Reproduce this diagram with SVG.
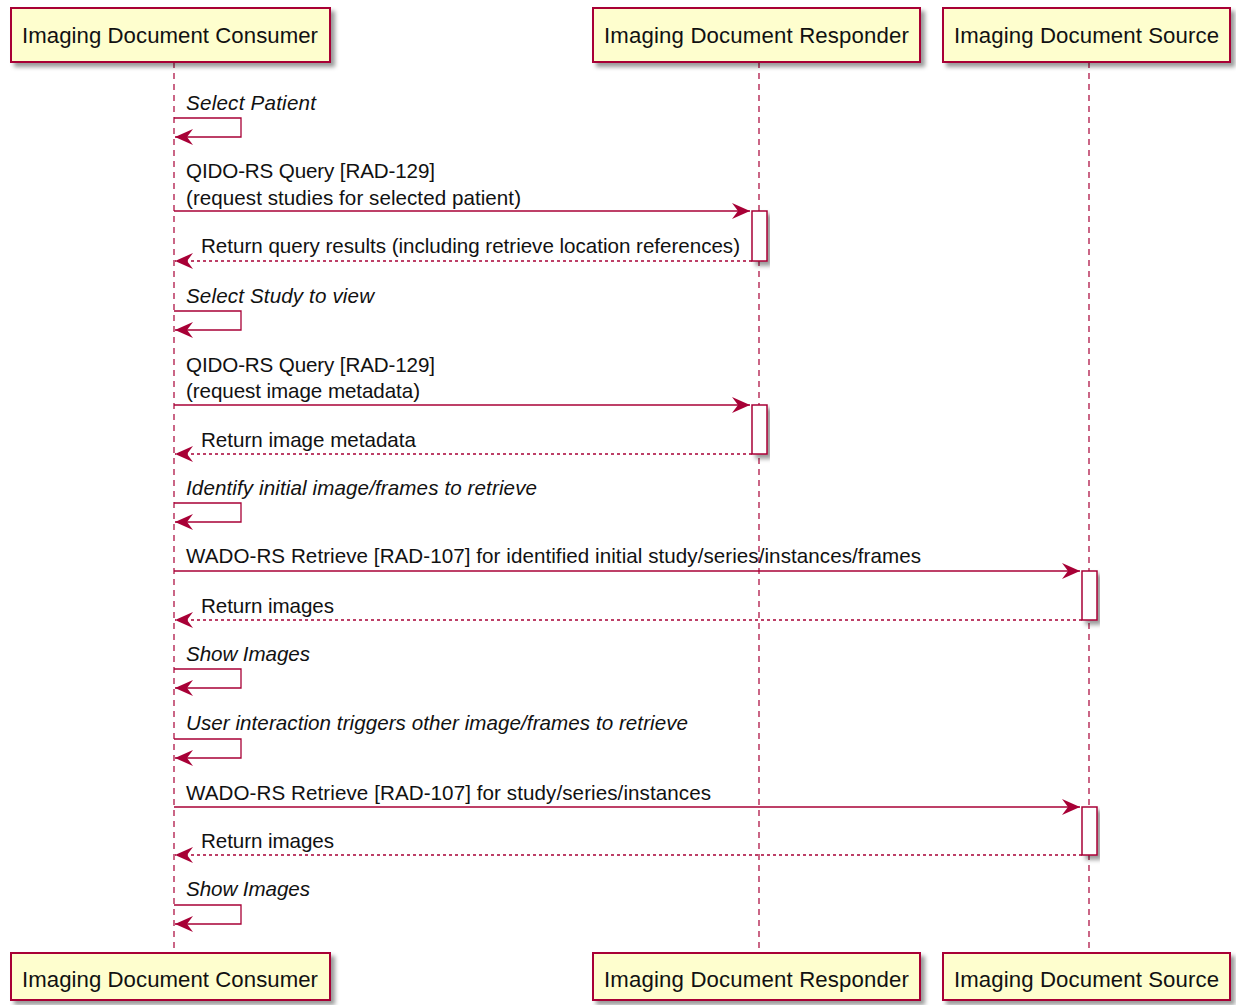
<svg xmlns="http://www.w3.org/2000/svg" width="1236" height="1005" viewBox="0 0 1236 1005">
<defs>
<filter id="sh" x="-10%" y="-10%" width="130%" height="150%">
<feDropShadow dx="4" dy="4" stdDeviation="2" flood-color="#000" flood-opacity="0.4"/>
</filter>
<marker id="ah" viewBox="0 0 18 16" refX="18" refY="8" markerWidth="18" markerHeight="16" markerUnits="userSpaceOnUse" orient="auto">
<polygon points="0,0 18,8 0,16 6,8" fill="#A80036"/>
</marker>
</defs>
<style>
.box{fill:#FEFECE;stroke:#A80036;stroke-width:2;filter:url(#sh)}
.act{fill:#FFFFFF;stroke:#A80036;stroke-width:1.5;filter:url(#sh)}
.life{stroke:#A80036;stroke-width:1.2;stroke-dasharray:6,5;fill:none}
.msg{stroke:#A80036;stroke-width:1.3;fill:none}
.ret{stroke:#A80036;stroke-width:1.3;fill:none;stroke-dasharray:3,3}
.pt{font-family:"Liberation Sans",Arial,sans-serif;font-size:22.2px;fill:#111}
.mt{font-family:"Liberation Sans",Arial,sans-serif;font-size:20.6px;fill:#111}
.it{font-style:italic}
</style>
<g id="lifelines">
<line class="life" x1="174" y1="62" x2="174" y2="953"/>
<line class="life" x1="759" y1="62" x2="759" y2="953"/>
<line class="life" x1="1089" y1="62" x2="1089" y2="953"/>
</g>
<g id="activations">
<rect class="act" x="752" y="211" width="15" height="50"/>
<rect class="act" x="752" y="405" width="15" height="49"/>
<rect class="act" x="1082" y="571" width="15" height="49"/>
<rect class="act" x="1082" y="807" width="15" height="48"/>
</g>
<g id="participant-consumer-top"><rect class="box" x="11" y="8" width="319" height="54"/><text class="pt" x="22" y="43" textLength="296" lengthAdjust="spacing">Imaging Document Consumer</text></g>
<g id="participant-responder-top"><rect class="box" x="593" y="8" width="327" height="54"/><text class="pt" x="604" y="43" textLength="305" lengthAdjust="spacing">Imaging Document Responder</text></g>
<g id="participant-source-top"><rect class="box" x="943" y="8" width="287" height="54"/><text class="pt" x="954" y="43" textLength="265" lengthAdjust="spacing">Imaging Document Source</text></g>
<g id="participant-consumer-bottom"><rect class="box" x="11" y="953" width="319" height="47"/><text class="pt" x="22" y="987" textLength="296" lengthAdjust="spacing">Imaging Document Consumer</text></g>
<g id="participant-responder-bottom"><rect class="box" x="593" y="953" width="327" height="47"/><text class="pt" x="604" y="987" textLength="305" lengthAdjust="spacing">Imaging Document Responder</text></g>
<g id="participant-source-bottom"><rect class="box" x="943" y="953" width="287" height="47"/><text class="pt" x="954" y="987" textLength="265" lengthAdjust="spacing">Imaging Document Source</text></g>
<g id="connectors">
<polyline class="msg" points="174,118 241,118 241,137 175,137" marker-end="url(#ah)"/>
<text class="mt it" x="186" y="110" textLength="130" lengthAdjust="spacing">Select Patient</text>
<line class="msg" x1="174" y1="211" x2="750" y2="211" marker-end="url(#ah)"/>
<text class="mt" x="186" y="178" textLength="249" lengthAdjust="spacing">QIDO-RS Query [RAD-129]</text>
<text class="mt" x="186" y="205" textLength="335" lengthAdjust="spacing">(request studies for selected patient)</text>
<line class="ret" x1="752" y1="261" x2="175" y2="261" marker-end="url(#ah)"/>
<text class="mt" x="201" y="253" textLength="539" lengthAdjust="spacing">Return query results (including retrieve location references)</text>
<polyline class="msg" points="174,311 241,311 241,330 175,330" marker-end="url(#ah)"/>
<text class="mt it" x="186" y="303" textLength="188" lengthAdjust="spacing">Select Study to view</text>
<line class="msg" x1="174" y1="405" x2="750" y2="405" marker-end="url(#ah)"/>
<text class="mt" x="186" y="372" textLength="249" lengthAdjust="spacing">QIDO-RS Query [RAD-129]</text>
<text class="mt" x="186" y="398" textLength="234" lengthAdjust="spacing">(request image metadata)</text>
<line class="ret" x1="752" y1="454" x2="175" y2="454" marker-end="url(#ah)"/>
<text class="mt" x="201" y="447" textLength="215" lengthAdjust="spacing">Return image metadata</text>
<polyline class="msg" points="174,503 241,503 241,522 175,522" marker-end="url(#ah)"/>
<text class="mt it" x="186" y="495" textLength="351" lengthAdjust="spacing">Identify initial image/frames to retrieve</text>
<line class="msg" x1="174" y1="571" x2="1080" y2="571" marker-end="url(#ah)"/>
<text class="mt" x="186" y="563" textLength="735" lengthAdjust="spacing">WADO-RS Retrieve [RAD-107] for identified initial study/series/instances/frames</text>
<line class="ret" x1="1082" y1="620" x2="175" y2="620" marker-end="url(#ah)"/>
<text class="mt" x="201" y="613" textLength="133" lengthAdjust="spacing">Return images</text>
<polyline class="msg" points="174,669 241,669 241,688 175,688" marker-end="url(#ah)"/>
<text class="mt it" x="186" y="661" textLength="124" lengthAdjust="spacing">Show Images</text>
<polyline class="msg" points="174,739 241,739 241,758 175,758" marker-end="url(#ah)"/>
<text class="mt it" x="186" y="730" textLength="502" lengthAdjust="spacing">User interaction triggers other image/frames to retrieve</text>
<line class="msg" x1="174" y1="807" x2="1080" y2="807" marker-end="url(#ah)"/>
<text class="mt" x="186" y="800" textLength="525" lengthAdjust="spacing">WADO-RS Retrieve [RAD-107] for study/series/instances</text>
<line class="ret" x1="1082" y1="855" x2="175" y2="855" marker-end="url(#ah)"/>
<text class="mt" x="201" y="848" textLength="133" lengthAdjust="spacing">Return images</text>
<polyline class="msg" points="174,905 241,905 241,924 175,924" marker-end="url(#ah)"/>
<text class="mt it" x="186" y="896" textLength="124" lengthAdjust="spacing">Show Images</text>
</g>
</svg>
